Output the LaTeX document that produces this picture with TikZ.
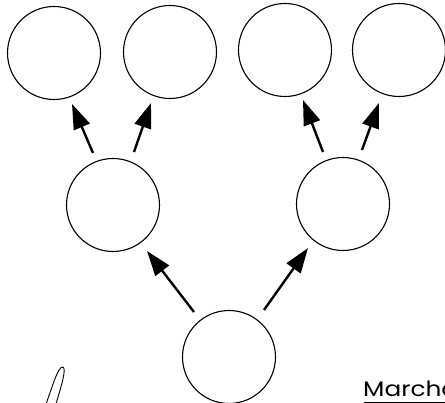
\documentclass[tikz,border=0pt]{standalone}
\usepackage{fontspec}
\newfontfamily\gfont{Poppins}
\usetikzlibrary{arrows.meta}
\begin{document}
\begin{tikzpicture}[x=1pt,y=-1pt,
  ring/.style={circle,draw,line width=1.1pt,minimum size=93pt,inner sep=0pt},
  arr/.style={line width=2.4pt,-{Triangle[length=25pt,width=17pt]}}]
\useasboundingbox (0,0) rectangle (445,403);
\clip (0,0) rectangle (445,403);
\node[ring] (t1) at (54,53) {};
\node[ring] (t2) at (170,52) {};
\node[ring] (t3) at (285,50) {};
\node[ring] (t4) at (399,50) {};
\node[ring] (m1) at (113,205) {};
\node[ring] (m2) at (343,204) {};
\node[ring] (b) at (229,357) {};
% arrow end points
\coordinate (a1s) at (93,153); \coordinate (a1e) at (72,104);
\coordinate (a2s) at (134,152); \coordinate (a2e) at (151,103);
\coordinate (a3s) at (323,152); \coordinate (a3e) at (303,100);
\coordinate (a4s) at (362,150); \coordinate (a4e) at (379,103);
\coordinate (a5s) at (194,312); \coordinate (a5e) at (147,251);
\coordinate (a6s) at (264,310); \coordinate (a6e) at (308,248);
\draw[arr] (a1s) -- (a1e);
\draw[arr] (a2s) -- (a2e);
\draw[arr] (a3s) -- (a3e);
\draw[arr] (a4s) -- (a4e);
\draw[arr] (a5s) -- (a5e);
\draw[arr] (a6s) -- (a6e);
% pencil-like mark
\coordinate (k1) at (46,404);
\coordinate (k2) at (63,367);
\coordinate (k3) at (56,404);
\draw[line width=0.9pt] (k1) .. controls (52,388) and (58,366) .. (k2)
  .. controls (67,369) and (60,390) .. (k3);
% text
\node[anchor=base west,inner sep=0pt,font=\gfont\fontsize{21}{24}\selectfont] (lbl) at (363,397) {\scalebox{1.18}[1]{Marcha}};
\draw[line width=0.9pt] (364,402) -- (445,402);
\end{tikzpicture}
\end{document}
